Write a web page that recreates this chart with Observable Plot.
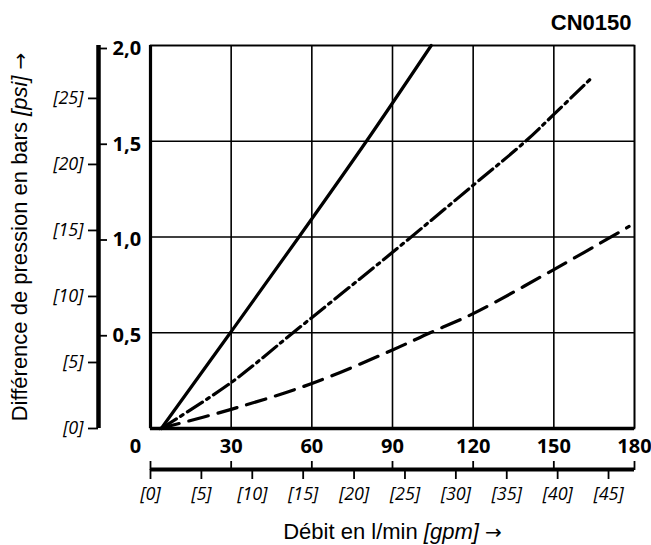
<!DOCTYPE html>
<html><head><meta charset="utf-8">
<script src="https://cdn.jsdelivr.net/npm/d3@7"></script>
<script src="https://cdn.jsdelivr.net/npm/@observablehq/plot@0.6"></script>
<style>body{margin:0;background:#fff} svg{display:block}</style>
</head><body><div id="chart"></div>
<script>
// ---- data ----
const lpmTicks = [0, 30, 60, 90, 120, 150, 180];
const lpmLabels = ["0", "30", "60", "90", "120", "150", "180"];
const barTicks = [0.5, 1.0, 1.5, 2.0];
const barLabels = ["0,5", "1,0", "1,5", "2,0"];
const psiTicks = [0, 5, 10, 15, 20, 25];
const gpmTicks = [0, 5, 10, 15, 20, 25, 30, 35, 40, 45];
const LPM_PER_GPM = 3.78541;
const PSI_PER_BAR = 14.5038;

const solidFlow = [4, 29.7, 55.2, 80.3, 104.4];
const solidDp   = [0, 0.5, 1.0, 1.5, 2.0];
const dashDotFlow = [4, 30, 53, 90, 120, 139.5, 150, 164];
const dashDotDp   = [0, 0.24, 0.5, 0.92, 1.27, 1.5, 1.64, 1.83];
const dashedFlow = [3.5, 30, 60, 90, 104, 120, 150, 178];
const dashedDp   = [0, 0.1, 0.235, 0.41, 0.5, 0.6, 0.83, 1.055];

const chartId = "CN0150";
const xTitle = "Débit en l/min [gpm] →";
const yTitle = "Différence de pression en bars [psi] →";

const pts = (fs, ds) => fs.map((f, i) => ({flow: f, dp: ds[i]}));
const bold = "'Open Sans', sans-serif";
const sans = "'Liberation Sans', Arial, sans-serif";

const chart = Plot.plot({
  width: 651, height: 545,
  marginLeft: 150, marginRight: 17, marginTop: 45, marginBottom: 117,
  x: {domain: [0, 180], axis: null, label: null},
  y: {domain: [0, 2], axis: null, label: null},
  style: {background: "#fff", color: "#000", fontFamily: sans},
  marks: [
    Plot.gridX(lpmTicks, {stroke: "#000", strokeOpacity: 1, strokeWidth: 1.6}),
    Plot.gridY(barTicks, {stroke: "#000", strokeOpacity: 1, strokeWidth: 1.6}),
    Plot.frame({stroke: "#000", strokeWidth: 1.6}),
    Plot.ruleX([0], {stroke: "#000", strokeWidth: 3.2}),
    Plot.ruleY([0], {stroke: "#000", strokeWidth: 3.5}),
    // curves
    Plot.line(pts(solidFlow, solidDp), {x: "flow", y: "dp", stroke: "#000", strokeWidth: 3.2, curve: "catmull-rom"}),
    Plot.line(pts(dashDotFlow, dashDotDp), {x: "flow", y: "dp", stroke: "#000", strokeWidth: 3.2, curve: "catmull-rom", strokeDasharray: "18,5,3,5"}),
    Plot.line(pts(dashedFlow, dashedDp), {x: "flow", y: "dp", stroke: "#000", strokeWidth: 3.2, curve: "catmull-rom", strokeDasharray: "20,10"}),
    // secondary vertical axis: bar (right side ticks) + psi (left side ticks)
    Plot.ruleX([0], {dx: -52, stroke: "#000", strokeWidth: 4.5}),
    Plot.axisY(barTicks, {anchor: "right", label: null, dx: -536, dy: 3, tickSize: 8, tickPadding: 6, strokeWidth: 1.8,
      text: d => barLabels[barTicks.indexOf(d)], fontSize: 20, fontWeight: "bold", fontFamily: bold}),
    Plot.axisY(psiTicks, {y: d => d / PSI_PER_BAR, anchor: "left", label: null, dx: -52, tickSize: 10, tickPadding: 5, strokeWidth: 1.8,
      text: d => `[${d}]`, fontSize: 18, fontStyle: "italic", fontFamily: bold}),
    // bottom axes: l/min ticks (up) and gpm ticks (down)
    Plot.ruleY([0], {dy: 41, stroke: "#000", strokeWidth: 3.8}),
    Plot.axisX(lpmTicks, {anchor: "top", label: null, dy: 424, tickSize: 9, strokeWidth: 1.8, text: d => ""}),
    Plot.axisX(gpmTicks, {x: d => d * LPM_PER_GPM, anchor: "bottom", label: null, dy: 41, tickSize: 10, tickPadding: 8, strokeWidth: 1.8,
      text: d => `[${d}]`, fontSize: 18, fontStyle: "italic", fontFamily: bold}),
    Plot.text(lpmTicks.slice(1), {x: d => d, text: d => lpmLabels[lpmTicks.indexOf(d)], frameAnchor: "bottom", lineAnchor: "middle", dy: 18,
      fontSize: 20, fontWeight: "bold", fontFamily: bold}),
    Plot.text(lpmTicks.slice(0, 1), {x: d => d, text: d => lpmLabels[lpmTicks.indexOf(d)], frameAnchor: "bottom", lineAnchor: "middle", dx: -15, dy: 18,
      fontSize: 20, fontWeight: "bold", fontFamily: bold}),
    // titles
    Plot.text([xTitle], {frameAnchor: "bottom", lineAnchor: "middle", textAnchor: "middle", dy: 103, fontSize: 22, fontFamily: sans}),
    Plot.text([yTitle], {frameAnchor: "left", lineAnchor: "middle", textAnchor: "middle", dx: -131, rotate: -90, fontSize: 22, fontFamily: sans}),
    Plot.text([chartId], {frameAnchor: "top-right", lineAnchor: "middle", textAnchor: "end", dx: -3, dy: -23, fontSize: 22, fontWeight: "bold", fontFamily: sans})
  ]
});

// italicise the bracketed unit in the axis titles; draw the arrow with a font that has a full-size arrow
d3.select(chart).selectAll("text").each(function () {
  const t = this.textContent;
  if (t === xTitle || t === yTitle) {
    const m = t.match(/^(.*?)(\[[^\]]+\])( )(→)$/);
    const sel = d3.select(this);
    sel.text(null);
    sel.append("tspan").text(m[1]);
    sel.append("tspan").attr("font-style", "italic").text(m[2]);
    sel.append("tspan").text(m[3]);
    sel.append("tspan").attr("font-family", "'DejaVu Sans', sans-serif").attr("font-size", 20).text(m[4]);
  }
});

document.getElementById("chart").appendChild(chart);
</script>
</body></html>
